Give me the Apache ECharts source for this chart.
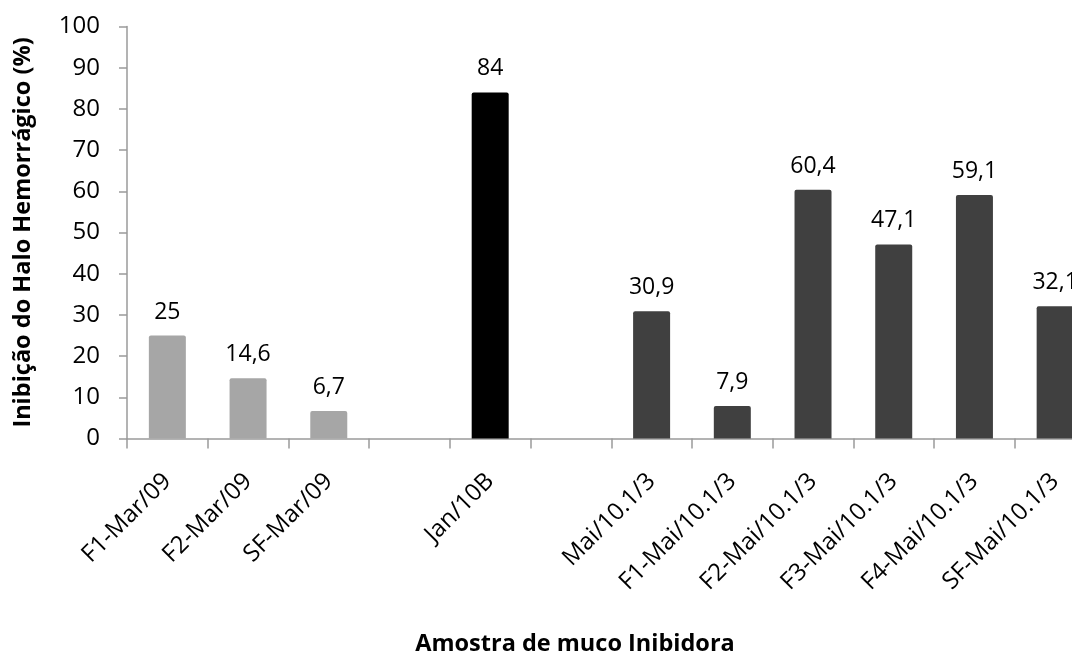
<!DOCTYPE html>
<html>
<head>
<meta charset="utf-8">
<title>Inibição do Halo Hemorrágico</title>
<script src="https://cdn.jsdelivr.net/npm/echarts@6/dist/echarts.min.js"></script>
<style>
  html, body { margin: 0; padding: 0; background: #fff; overflow: hidden; }
  #chart { width: 1100px; height: 654px; }
</style>
</head>
<body>
<div id="chart"></div>
<script>
// Samples in plotting order; empty strings leave a blank slot between batches.
const categories = [
  'F1-Mar/09', 'F2-Mar/09', 'SF-Mar/09', '',
  'Jan/10B', '',
  'Mai/10.1/3', 'F1-Mai/10.1/3', 'F2-Mai/10.1/3',
  'F3-Mai/10.1/3', 'F4-Mai/10.1/3', 'SF-Mai/10.1/3'
];

// Inhibition of the haemorrhagic halo (%), one value per slot.
const inhibition = [25, 14.6, 6.7, null, 84, null, 30.9, 7.9, 60.4, 47.1, 59.1, 32.1];

// Collection batch of each slot (decides the bar colour).
const batch = ['Mar/09', 'Mar/09', 'Mar/09', null, 'Jan/10', null,
               'Mai/10', 'Mai/10', 'Mai/10', 'Mai/10', 'Mai/10', 'Mai/10'];

const yTicks = { min: 0, max: 100, step: 10 };

const yTitle = 'Inibição do Halo Hemorrágico (%)';
const xTitle = 'Amostra de muco Inibidora';

const batchColors = { 'Mar/09': '#a6a6a6', 'Jan/10': '#000000', 'Mai/10': '#404040' };
const FONT = '"Open Sans", "Noto Sans", sans-serif';
const AXIS_GREY = '#9a9a9a';

const barData = inhibition.map((v, i) => v === null ? null : {
  value: v,
  itemStyle: { color: batchColors[batch[i]] }
});

const chart = echarts.init(document.getElementById('chart'), null, { renderer: 'canvas' });

chart.setOption({
  backgroundColor: '#ffffff',
  animation: false,
  title: {
    text: xTitle,
    left: 570,
    top: 627,
    textAlign: 'center',
    textStyle: { fontFamily: FONT, fontSize: 23.5, fontWeight: 'bold', color: '#000' }
  },
  grid: { left: 127, right: 4.5, top: 26.5, bottom: 215.5, containLabel: false },
  xAxis: {
    type: 'category',
    data: categories,
    axisLine: { lineStyle: { color: AXIS_GREY, width: 1.5 } },
    axisTick: { show: true, interval: 0, length: 10, alignWithLabel: false, lineStyle: { color: AXIS_GREY, width: 1.5 } },
    axisLabel: {
      interval: 0,
      rotate: 45,
      margin: 39,
      fontFamily: FONT,
      fontSize: 24,
      color: '#000'
    },
    splitLine: { show: false }
  },
  yAxis: {
    type: 'value',
    min: yTicks.min,
    max: yTicks.max,
    interval: yTicks.step,
    name: yTitle,
    nameLocation: 'middle',
    nameGap: 92,
    nameRotate: 90,
    nameTextStyle: { fontFamily: FONT, fontSize: 23.5, fontWeight: 'bold', color: '#000' },
    axisLine: { show: true, lineStyle: { color: AXIS_GREY, width: 1.5 } },
    axisTick: { show: true, length: 8, lineStyle: { color: AXIS_GREY, width: 1.5 } },
    axisLabel: { margin: 27, fontFamily: FONT, fontSize: 24, color: '#000' },
    splitLine: { show: false }
  },
  series: [{
    type: 'bar',
    data: barData,
    barWidth: 37,
    itemStyle: { borderRadius: [2, 2, 0, 0] },
    label: {
      show: true,
      position: 'top',
      distance: 12,
      fontFamily: FONT,
      fontSize: 23,
      color: '#000',
      formatter: p => String(p.value).replace('.', ',')
    }
  }]
});
</script>
</body>
</html>
